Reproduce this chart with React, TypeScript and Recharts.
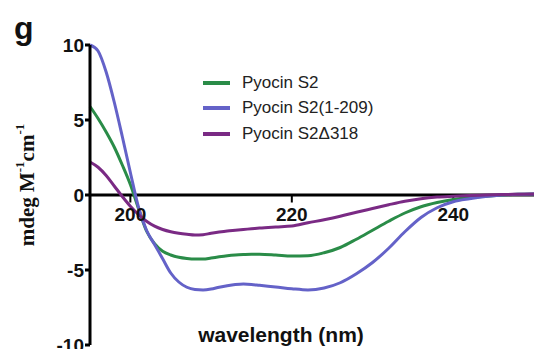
import { LineChart, Line, XAxis, YAxis, ReferenceLine } from 'recharts';

// CD spectra, wavelength in nm, ellipticity in mdeg M-1 cm-1
const wavelengths = [
  195, 196, 197, 198, 199, 200, 201, 202, 203, 204, 205, 206, 207, 208, 209, 210,
  211, 212, 213, 214, 215, 216, 218, 220, 222, 224, 226, 228, 230, 232, 234, 236,
  238, 240, 242, 244, 246, 248, 250,
];

const pyocinS2 = [
  5.9, 5.1, 4.2, 3.2, 2.0, 0.7, -0.9, -2.4, -3.25, -3.75, -4.0, -4.15, -4.23, -4.27, -4.27, -4.2,
  -4.12, -4.05, -4.0, -3.97, -3.95, -3.95, -4.0, -4.07, -4.05, -3.85, -3.5, -2.95, -2.35, -1.75, -1.2, -0.78,
  -0.5, -0.3, -0.17, -0.08, 0, 0.05, 0.07,
];

const pyocinS2Fragment = [
  10, 9.6, 8.2, 6.2, 3.9, 1.5, -0.8, -2.35, -3.3, -4.25, -5.2, -5.8, -6.15, -6.3, -6.33, -6.27,
  -6.15, -6.05, -5.97, -5.93, -5.96, -6.02, -6.13, -6.25, -6.33, -6.2, -5.85, -5.25, -4.5, -3.55, -2.45, -1.5,
  -0.85, -0.45, -0.25, -0.1, 0, 0.05, 0.07,
];

const pyocinS2Delta = [
  2.2, 1.85, 1.3, 0.6, -0.1, -0.75, -1.3, -1.75, -2.08, -2.3, -2.45, -2.55, -2.62, -2.67, -2.65, -2.55,
  -2.47, -2.4, -2.35, -2.3, -2.25, -2.2, -2.13, -2.07, -1.85, -1.65, -1.42, -1.15, -0.9, -0.65, -0.42, -0.25,
  -0.14, -0.08, -0.03, 0, 0.03, 0.05, 0.07,
];

const xTicks = [200, 220, 240];
const yTicks = [-10, -5, 0, 5, 10];

const series = [
  { key: 's2', name: 'Pyocin S2', color: '#2a8c48', values: pyocinS2 },
  { key: 's2frag', name: 'Pyocin S2(1-209)', color: '#6462c8', values: pyocinS2Fragment },
  { key: 's2delta', name: 'Pyocin S2\u0394318', color: '#7a2a84', values: pyocinS2Delta },
];

const data = wavelengths.map((nm, i) => {
  const row: Record<string, number> = { nm };
  series.forEach((s) => {
    row[s.key] = s.values[i];
  });
  return row;
});

const sans = '"Liberation Sans", Arial, Helvetica, sans-serif';
const serif = '"Liberation Serif", "Times New Roman", serif';

const YLabel = ({ viewBox }: any) => {
  const cx = viewBox.x + 27;
  const cy = viewBox.y + viewBox.height / 2 - 10;
  return (
    <text
      x={cx}
      y={cy}
      transform={`rotate(-90, ${cx}, ${cy})`}
      textAnchor="middle"
      dominantBaseline="central"
      fontFamily={serif}
      fontWeight={700}
      fontSize={21}
      fill="#111"
    >
      mdeg M<tspan dy={-8} fontSize={13}>-1</tspan>
      <tspan dy={8}>cm</tspan>
      <tspan dy={-8} fontSize={13}>-1</tspan>
    </text>
  );
};

const App = () => {
  return (
    <div style={{ position: 'absolute', left: 0, top: 0, width: 534, height: 349, background: '#fff' }}>
      <LineChart width={534} height={349} data={data} margin={{ top: 45, right: 0, bottom: 4, left: 0 }}>
        <XAxis type="number" dataKey="nm" domain={[195, 250]} hide />
        <YAxis
          type="number"
          domain={[-10, 10]}
          ticks={yTicks}
          interval={0}
          width={90}
          axisLine={{ stroke: '#000', strokeWidth: 3 }}
          tickLine={{ stroke: '#000', strokeWidth: 3 }}
          tickSize={5}
          tickMargin={1}
          tick={{ fill: '#111', fontSize: 19, fontWeight: 700, fontFamily: sans }}
          label={{ content: (props: any) => <YLabel viewBox={props.viewBox} /> }}
        />
        <ReferenceLine y={0} stroke="#000" strokeWidth={3} />
        {xTicks.map((t) => (
          <ReferenceLine
            key={t}
            segment={[{ x: t, y: 0 }, { x: t, y: -0.5 }]}
            stroke="#000"
            strokeWidth={2}
            label={{
              value: String(t),
              position: 'bottom',
              offset: 5,
              fill: '#111',
              fontSize: 19,
              fontWeight: 700,
              fontFamily: sans,
            }}
          />
        ))}
        {series.map((s) => (
          <Line
            key={s.key}
            type="monotone"
            dataKey={s.key}
            name={s.name}
            stroke={s.color}
            strokeWidth={3}
            dot={false}
            isAnimationActive={false}
          />
        ))}
      </LineChart>

      <div
        style={{
          position: 'absolute',
          left: 14,
          top: 12,
          fontFamily: sans,
          fontWeight: 700,
          fontSize: 32,
          lineHeight: 1,
          color: '#111',
        }}
      >
        g
      </div>

      <div style={{ position: 'absolute', left: 203, top: 70, fontFamily: sans, fontSize: 17, color: '#222' }}>
        {series.map((s) => (
          <div key={s.key} style={{ display: 'flex', alignItems: 'center', height: 25.5 }}>
            <span style={{ display: 'inline-block', width: 27, height: 4, background: s.color, marginRight: 12 }} />
            <span>{s.name}</span>
          </div>
        ))}
      </div>

      <div
        style={{
          position: 'absolute',
          left: 171,
          top: 323,
          width: 220,
          textAlign: 'center',
          fontFamily: sans,
          fontWeight: 700,
          fontSize: 21,
          color: '#111',
        }}
      >
        wavelength (nm)
      </div>
    </div>
  );
};

export default App;
